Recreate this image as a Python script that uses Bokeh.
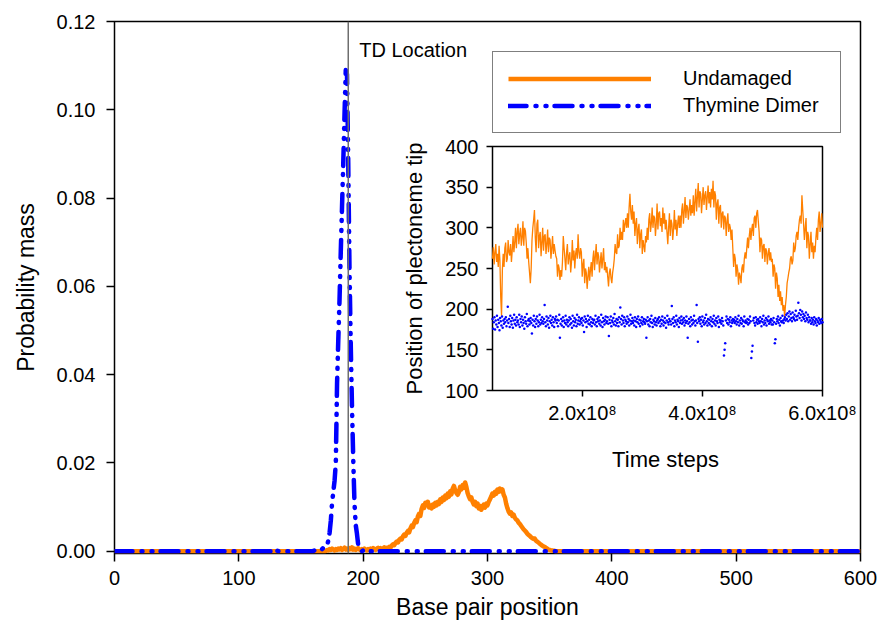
import numpy as np
from bokeh.plotting import figure
from bokeh.models import (Range1d, LinearAxis, FixedTicker, PrintfTickFormatter,
                          CustomJSTickFormatter, Span, Label, Legend, LegendItem)
from bokeh.embed import file_html
from bokeh.resources import INLINE

# ---------------- data ----------------
bp_first, bp_last = 0, 600
x_ticks = [0, 100, 200, 300, 400, 500, 600]
y_ticks = [0.0, 0.02, 0.04, 0.06, 0.08, 0.10, 0.12]
td_location = 188

# Undamaged probability mass, bp 170..355 (zero elsewhere)
undamaged_start = 170
undamaged_values = [
    0.0001, 0.0003, 0.0002, 0.0005, 0.0003, 0.0006, 0.0004, 0.0002, 0.0005, 0.0003,
    0.0006, 0.0004, 0.0007, 0.0003, 0.0005, 0.0008, 0.0004, 0.0006, 0.0003, 0.0007,
    0.0005, 0.0009, 0.0004, 0.0006, 0.0003, 0.0005, 0.0007, 0.0004, 0.0002, 0.0005,
    0.0003, 0.0006, 0.0004, 0.0002, 0.0005, 0.0003, 0.0006, 0.0004, 0.0007, 0.0005,
    0.0003, 0.0006, 0.0008, 0.0005, 0.0007, 0.0004, 0.0006, 0.0009, 0.0006, 0.0008,
    0.0007, 0.0010, 0.0008, 0.0013, 0.0016, 0.0014, 0.0019, 0.0022, 0.0020, 0.0026,
    0.0029, 0.0027, 0.0034, 0.0038, 0.0035, 0.0042, 0.0046, 0.0043, 0.0052, 0.0058,
    0.0055, 0.0064, 0.0070, 0.0066, 0.0079, 0.0085, 0.0080, 0.0096, 0.0104, 0.0098,
    0.0110, 0.0105, 0.0112, 0.0099, 0.0104, 0.0097, 0.0106, 0.0101, 0.0110, 0.0104,
    0.0112, 0.0107, 0.0118, 0.0112, 0.0122, 0.0116, 0.0126, 0.0120, 0.0131, 0.0124,
    0.0136, 0.0129, 0.0142, 0.0148, 0.0138, 0.0132, 0.0128, 0.0134, 0.0146, 0.0140,
    0.0150, 0.0144, 0.0156, 0.0146, 0.0132, 0.0124, 0.0118, 0.0122, 0.0112, 0.0106,
    0.0112, 0.0102, 0.0108, 0.0097, 0.0103, 0.0094, 0.0101, 0.0106, 0.0099, 0.0108,
    0.0104, 0.0112, 0.0118, 0.0124, 0.0131, 0.0126, 0.0135, 0.0130, 0.0140, 0.0135,
    0.0142, 0.0136, 0.0140, 0.0128, 0.0122, 0.0108, 0.0098, 0.0090, 0.0085, 0.0088,
    0.0080, 0.0083, 0.0076, 0.0072, 0.0070, 0.0065, 0.0062, 0.0058, 0.0054, 0.0050,
    0.0047, 0.0044, 0.0040, 0.0037, 0.0035, 0.0032, 0.0030, 0.0028, 0.0029, 0.0024,
    0.0022, 0.0020, 0.0017, 0.0015, 0.0013, 0.0011, 0.0010, 0.0008, 0.0006, 0.0004,
    0.0003, 0.0002, 0.0002, 0.0001, 0.0001, 0.0000,
]

# Thymine dimer probability mass (zero elsewhere)
dimer_bump_start = 128
dimer_bump_values = [0.0002, 0.0006, 0.0004, 0.0001]
dimer_start = 160
dimer_values = [
    0.0001, 0.0002, 0.0001, 0.0003, 0.0005, 0.0004, 0.0006, 0.0005, 0.0008, 0.0007,
    0.0010, 0.0013, 0.0025, 0.0042, 0.0070, 0.0110, 0.0135, 0.0160, 0.0200, 0.0380,
    0.0480, 0.0570, 0.0680, 0.0780, 0.0880, 0.0990, 0.1090, 0.1080, 0.0880, 0.0640,
    0.0470, 0.0330, 0.0210, 0.0110, 0.0060, 0.0040, 0.0015, 0.0005, 0.0002,
]
dimer_tail_start = 200
dimer_tail_values = [0.0002, 0.0004, 0.0005, 0.0003, 0.0001]

# Inset: position of plectoneme tip vs time steps
inset_t_first, inset_t_last = 5e7, 6e8
inset_x_ticks = [2e8, 4e8, 6e8]
inset_y_ticks = [100, 150, 200, 250, 300, 350, 400]
undamaged_tip = [
    262, 276, 255, 270, 280, 258, 268, 252, 278, 260,
    215, 192, 248,
    268, 252, 275, 282, 258, 262, 285, 270, 266, 280, 258, 272,
    290, 270, 282, 300, 275, 295, 305, 280, 292, 300, 278, 288,
    308, 278, 300, 296, 282, 262, 275, 258,
    245, 232, 250,
    285, 300, 310, 322,
    288, 270, 305, 310, 275, 290, 295, 265, 282, 300, 272, 290, 292, 268, 280, 298, 270, 288, 285, 262,
    275, 290, 268, 280, 272, 265,
    262, 240, 255, 250, 236, 248, 240, 258,
    290, 275,
    262, 248, 270, 280, 255, 265, 270, 245, 258, 285, 260, 272, 250, 268, 275, 262,
    292, 270, 262, 275,
    270, 240, 255, 262, 232, 250, 245, 225, 240, 252, 235, 248,
    258, 240, 262, 272, 248, 265, 280, 255, 270, 265, 245, 258, 270, 250, 262, 275, 248, 258, 245, 252,
    240, 228, 245, 250, 238, 232, 245, 252,
    262, 280, 270, 268, 292, 275, 278, 300, 285, 295, 285, 310, 295, 305, 312, 300,
    318, 300, 325, 342, 320, 310, 328, 305,
    320, 290, 305, 312, 280, 298, 305, 275, 292, 298, 268, 285, 278, 270, 290, 282,
    300, 285, 310, 318, 295, 305, 325, 300, 315, 312, 290, 305, 330, 298, 318, 320, 302, 312, 295, 325,
    305, 318, 298, 310,
    295, 280, 300, 318, 290, 310, 305, 285, 298, 322, 298, 310, 290, 305, 315, 300,
    315, 300, 322, 330, 305, 320, 338, 312, 328, 325, 310, 322, 335, 315, 328, 318,
    340, 315, 332, 348, 320, 338, 355, 325, 345, 342, 318, 335, 350, 328, 340, 345, 322, 338, 352, 330,
    344, 325, 348, 335,
    358, 325, 345, 340, 310, 330, 335, 305, 325, 328, 300, 318, 320, 298, 315, 312, 290, 308, 318, 295,
    305, 300, 285, 298,
    275, 252, 268, 262, 240, 255, 248, 230, 245, 240, 232, 250,
    255, 245, 262, 270, 262, 275, 288, 275, 290, 300, 285, 298, 305, 290, 312, 315, 300, 318, 322, 308,
    295, 270, 288, 285, 262, 278, 280, 258, 275, 272, 255, 268, 275, 260, 270, 258,
    262, 240, 255, 250, 225, 245, 238, 215, 230, 210, 222, 205, 215, 198, 205, 190,
    205, 215, 232, 238, 245, 250, 262, 265, 255, 260, 282, 270, 275, 290, 295, 285, 300, 310, 315, 305,
    340, 322,
    305, 285, 300, 312, 275, 295, 290, 262, 280, 295, 270, 282, 262, 278, 270, 288,
    300, 285, 310, 320, 295, 305, 318, 300,
]
dimer_tip = [
    188, 176, 184, 190, 175, 186, 181, 192, 178, 187, 183, 174, 189, 185, 180, 191, 177, 186, 182, 188,
    184, 190, 179, 186, 203, 183, 188, 178, 192, 185, 181, 189, 177, 186, 193, 182, 187, 180, 190, 184,
    186, 181, 193, 178, 188, 184, 191, 180, 187, 183, 176, 190, 185, 182, 194, 179, 186, 188, 181, 185,
    189, 183, 170, 187, 180, 192, 185, 178, 188, 182, 191, 186, 179, 184, 193, 181, 187, 183, 190, 185,
    182, 188, 205, 184, 179, 191, 186, 181, 189, 177, 185, 192, 183, 187, 180, 190, 184, 178, 188, 186,
    191, 183, 187, 179, 186, 193, 165, 182, 188, 180, 185, 190, 178, 186, 183, 192, 181, 187, 184, 179,
    186, 190, 181, 188, 183, 177, 192, 185, 180, 189, 184, 187, 179, 193, 182, 186, 190, 181, 185, 188,
    183, 189, 180, 186, 172, 191, 184, 188, 178, 185, 192, 182, 187, 181, 190, 184, 179, 188, 183, 186,
    187, 181, 192, 184, 179, 188, 185, 190, 182, 186, 180, 193, 184, 178, 189, 185, 181, 187, 191, 183,
    185, 190, 182, 167, 187, 183, 191, 179, 186, 184, 189, 181, 194, 185, 180, 188, 183, 187, 179, 190,
    184, 202, 188, 181, 192, 186, 183, 190, 179, 187, 185, 182, 191, 184, 188, 180, 186, 193, 182, 185,
    189, 183, 186, 180, 190, 185, 178, 188, 184, 191, 182, 187, 179, 186, 183, 190, 181, 185, 188, 184,
    182, 187, 165, 185, 190, 181, 186, 179, 188, 184, 192, 183, 178, 187, 185, 181, 189, 184, 180, 186,
    188, 183, 190, 185, 179, 187, 182, 191, 186, 180, 184, 189, 183, 177, 186, 192, 184, 181, 188, 185,
    185, 181, 204, 188, 183, 190, 179, 186, 184, 192, 181, 187, 185, 178, 189, 183, 186, 191, 182, 187,
    184, 189, 180, 186, 183, 191, 185, 165, 182, 188, 184, 179, 190, 186, 181, 187, 183, 192, 185, 180,
    186, 205, 183, 160, 188, 185, 190, 182, 187, 179, 191, 184, 186, 181, 189, 183, 193, 185, 180, 188,
    183, 187, 181, 190, 185, 179, 188, 184, 192, 182, 186, 180, 189, 185, 183, 191, 178, 187, 184, 186,
    182, 189, 185, 180, 143, 150, 158, 186, 191, 183, 188, 181, 187, 184, 190, 179, 186, 183, 188, 185,
    187, 183, 190, 185, 181, 188, 184, 192, 180, 186, 183, 189, 182, 187, 185, 179, 191, 184, 186, 183,
    184, 188, 181, 187, 183, 191, 185, 140, 148, 155, 186, 189, 183, 180, 190, 184, 187, 182, 188, 185,
    183, 190, 185, 179, 188, 184, 192, 181, 186, 183, 189, 180, 187, 185, 191, 182, 186, 184, 188, 181,
    186, 181, 189, 184, 158, 163, 182, 188, 185, 191, 183, 187, 180, 189, 185, 184, 192, 186, 183, 188,
    190, 186, 193, 188, 195, 185, 191, 197, 187, 194, 189, 185, 196, 190, 188, 193, 186, 198, 191, 187,
    192, 208, 195, 189, 199, 193, 186, 197, 190, 194, 188, 192, 185, 196, 189, 187, 193, 184, 190, 186,
    186, 182, 189, 184, 187, 181, 190, 185, 183, 188, 180, 186, 184, 189, 182, 187, 185, 183, 188, 184,
]

# ---------------- build series ----------------
base_pairs = np.arange(bp_first, bp_last + 1)
undamaged = np.zeros(len(base_pairs))
undamaged[undamaged_start:undamaged_start + len(undamaged_values)] = undamaged_values
dimer = np.zeros(len(base_pairs))
dimer[dimer_bump_start:dimer_bump_start + len(dimer_bump_values)] = dimer_bump_values
dimer[dimer_start:dimer_start + len(dimer_values)] = dimer_values
dimer[dimer_tail_start:dimer_tail_start + len(dimer_tail_values)] = dimer_tail_values
undamaged_t = np.linspace(inset_t_first, inset_t_last, len(undamaged_tip))
dimer_t = np.linspace(inset_t_first, inset_t_last, len(dimer_tip))

# ---------------- layout (figure pixels) ----------------
FIG_W, FIG_H = 877, 622
FR_L, FR_R, FR_T, FR_B = 114, 860, 21, 553
IN_L, IN_R, IN_T, IN_B = 492, 822, 146, 390
LEG_L, LEG_B = 492, 133
Y_FLOOR, Y_TOP = -0.0005, 0.12   # small margin below zero so the thick baseline is not clipped

FONT = "Liberation Sans"
ORANGE = "#FF8000"
BLUE = "#0000FF"

p = figure(width=FIG_W, height=FIG_H, output_backend="svg", toolbar_location=None,
           x_range=Range1d(bp_first, bp_last), y_range=Range1d(Y_FLOOR, Y_TOP),
           min_border_left=FR_L, min_border_right=FIG_W - FR_R,
           min_border_top=FR_T, min_border_bottom=FIG_H - FR_B)
p.grid.visible = False
p.outline_line_color = "black"
p.outline_line_width = 1.5
p.background_fill_color = "white"
p.border_fill_color = "white"

main_x = p.xaxis[0]
main_y = p.yaxis[0]
for ax in (main_x, main_y):
    ax.axis_line_color = None
    ax.major_tick_line_color = "black"
    ax.major_tick_line_width = 1.5
    ax.major_tick_out = 8
    ax.major_tick_in = 0
    ax.minor_tick_line_color = None
    ax.major_label_text_font = FONT
    ax.major_label_text_font_size = "20px"
    ax.major_label_text_color = "black"
    ax.axis_label_text_font = FONT
    ax.axis_label_text_font_size = "23px"
    ax.axis_label_text_font_style = "normal"
    ax.axis_label_text_color = "black"
    ax.major_label_standoff = 11
main_x.ticker = FixedTicker(ticks=x_ticks)
main_y.ticker = FixedTicker(ticks=y_ticks)
main_y.formatter = PrintfTickFormatter(format="%.2f")
main_x.axis_label = "Base pair position"
main_y.axis_label = "Probability mass"
main_x.major_label_standoff = 9
main_x.axis_label_standoff = 6
main_y.axis_label_standoff = 15

# main curves
r_u = p.line(base_pairs, undamaged, line_color=ORANGE, line_width=4.5, line_join="round")
r_t = p.line(base_pairs, dimer, line_color=BLUE, line_width=4.5, line_dash="18 9 1 9 1 8",
             line_cap="round", line_join="round")

p.add_layout(Span(location=td_location, dimension="height", line_color="#6e6e6e", line_width=1.5))
p.add_layout(Label(x=td_location, y=Y_TOP - (49 - FR_T) / (FR_B - FR_T) * (Y_TOP - Y_FLOOR),
                   x_offset=11, text="TD Location", text_font=FONT, text_font_size="20px",
                   text_baseline="middle", text_color="black"))

# inset ranges mapped so that the inset occupies its box inside the frame
s_t = (inset_t_last - inset_t_first) / (IN_R - IN_L)
s_v = (inset_y_ticks[-1] - inset_y_ticks[0]) / (IN_B - IN_T)
p.extra_x_ranges = {"ix": Range1d(inset_t_first - (IN_L - FR_L) * s_t,
                                  inset_t_last + (FR_R - IN_R) * s_t)}
p.extra_y_ranges = {"iy": Range1d(inset_y_ticks[0] - (FR_B - IN_B) * s_v,
                                  inset_y_ticks[-1] + (IN_T - FR_T) * s_v)}

p.quad(left=[inset_t_first], right=[inset_t_last], bottom=[inset_y_ticks[0]], top=[inset_y_ticks[-1]],
       x_range_name="ix", y_range_name="iy", fill_color="white", line_color="black", line_width=1.5)
p.line(undamaged_t, undamaged_tip, x_range_name="ix", y_range_name="iy",
       line_color=ORANGE, line_width=1.3)
p.scatter(dimer_t, dimer_tip, x_range_name="ix", y_range_name="iy", marker="circle",
          size=2.5, fill_color=BLUE, line_color=None)

ix_axis = LinearAxis(x_range_name="ix", y_range_name="iy", fixed_location=inset_y_ticks[0],
                     bounds=(inset_t_first, inset_t_last),
                     ticker=FixedTicker(ticks=inset_x_ticks),
                     formatter=CustomJSTickFormatter(code="return (tick / 1e8).toFixed(1) + 'x10\\u2078';"))
iy_axis = LinearAxis(x_range_name="ix", y_range_name="iy", fixed_location=inset_t_first,
                     bounds=(inset_y_ticks[0], inset_y_ticks[-1]),
                     ticker=FixedTicker(ticks=inset_y_ticks))
for ax in (ix_axis, iy_axis):
    ax.axis_line_color = None
    ax.major_tick_line_color = "black"
    ax.major_tick_line_width = 1.5
    ax.major_tick_out = 6
    ax.major_tick_in = 0
    ax.minor_tick_line_color = None
    ax.major_label_text_font = FONT
    ax.major_label_text_font_size = "20px"
    ax.major_label_text_color = "black"
ix_axis.major_label_standoff = 5
iy_axis.major_label_standoff = 8
p.add_layout(ix_axis, "below")
p.add_layout(iy_axis, "left")

p.add_layout(Label(x=inset_t_first + (665 - IN_L) * s_t, y=inset_y_ticks[0] - (459 - IN_B) * s_v,
                   x_range_name="ix", y_range_name="iy", text="Time steps",
                   text_font=FONT, text_font_size="22px", text_align="center",
                   text_baseline="middle", text_color="black"))
p.add_layout(Label(x=inset_t_first - (IN_L - 414) * s_t,
                   y=(inset_y_ticks[0] + inset_y_ticks[-1]) / 2,
                   x_range_name="ix", y_range_name="iy", text="Position of plectoneme tip",
                   angle=np.pi / 2, text_font=FONT, text_font_size="22px", text_align="center",
                   text_baseline="middle", text_color="black"))

legend = Legend(items=[LegendItem(label="Undamaged", renderers=[r_u]),
                       LegendItem(label="Thymine Dimer", renderers=[r_t])],
                location=(LEG_L - FR_L, FR_B - LEG_B), margin=0, padding=15, spacing=4,
                glyph_width=143, glyph_height=23, label_height=23, label_width=142,
                label_standoff=32, label_text_font=FONT, label_text_font_size="20px",
                label_text_color="black", border_line_color="black", border_line_width=1.5,
                background_fill_color="white", background_fill_alpha=1.0)
p.add_layout(legend)

open("out.html", "w").write(file_html(p, INLINE))
